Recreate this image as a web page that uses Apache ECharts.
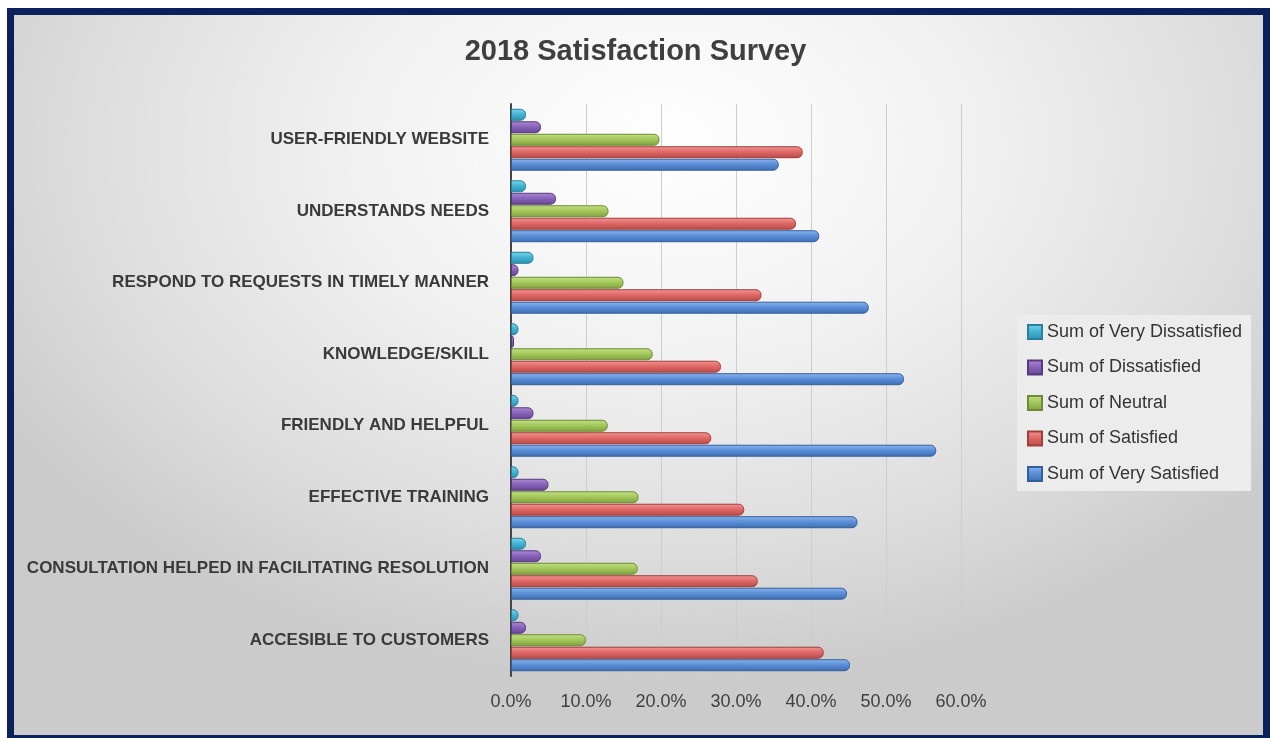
<!DOCTYPE html>
<html lang="en">
<head>
    <meta charset="UTF-8">
    <title>2018 Satisfaction Survey</title>
    <script src="https://cdn.jsdelivr.net/npm/echarts@6/dist/echarts.min.js"></script>
    <style>
        body {
            margin: 0;
            padding: 0;
            background: #fff;
            width: 1271px;
            height: 738px;
            overflow: hidden;
        }
        .frame {
            position: absolute;
            left: 7px;
            top: 8px;
            width: 1249px;
            height: 720px;
            border: 7px solid #0b215e;
            background: radial-gradient(ellipse 62% 75% at 52% 18%, #ffffff 0%, #f1f1f1 40%, #dddddd 75%, #cbcbcb 100%);
        }
        #chart {
            position: absolute;
            left: 0;
            top: 0;
            width: 1271px;
            height: 738px;
        }
    </style>
</head>
<body>
    <div class="frame"></div>
    <div id="chart"></div>
    <script>
        // categories, bottom to top as on the value axis
        var categories = [
            'ACCESIBLE TO CUSTOMERS',
            'CONSULTATION HELPED IN FACILITATING RESOLUTION',
            'EFFECTIVE TRAINING',
            'FRIENDLY AND HELPFUL',
            'KNOWLEDGE/SKILL',
            'RESPOND TO REQUESTS IN TIMELY MANNER',
            'UNDERSTANDS NEEDS',
            'USER-FRIENDLY WEBSITE'
        ];
        var xTicks = [0, 10, 20, 30, 40, 50, 60];

        // percentages, same order as categories
        var veryDissatisfied = [1.0, 2.0, 1.0, 1.0, 1.0, 3.0, 2.0, 2.0];
        var dissatisfied     = [2.0, 4.0, 5.0, 3.0, 0.4, 1.0, 6.0, 4.0];
        var neutral          = [10.0, 16.9, 17.0, 12.9, 18.9, 15.0, 13.0, 19.8];
        var satisfied        = [41.7, 32.9, 31.1, 26.7, 28.0, 33.4, 38.0, 38.9];
        var verySatisfied    = [45.2, 44.8, 46.2, 56.7, 52.4, 47.7, 41.1, 35.7];

        var seriesNames = [
            'Sum of Very Dissatisfied',
            'Sum of Dissatisfied',
            'Sum of Neutral',
            'Sum of Satisfied',
            'Sum of Very Satisfied'
        ];
        var seriesData = [veryDissatisfied, dissatisfied, neutral, satisfied, verySatisfied];
        // [light, mid, dark, border]
        var palette = [
            ['#7ad6ee', '#45b6d5', '#2b8fae', '#2a7f9a'],
            ['#ac8ad6', '#8a64bb', '#654592', '#553a7d'],
            ['#c4e184', '#a4c95c', '#7f9f3e', '#6f8c35'],
            ['#f39694', '#e06a68', '#b84946', '#a03e3c'],
            ['#8db5ee', '#5c90d8', '#3d6cb0', '#355f9c']
        ];

        function grad(c) {
            return new echarts.graphic.LinearGradient(0, 0, 0, 1, [
                { offset: 0, color: c[0] },
                { offset: 0.45, color: c[1] },
                { offset: 1, color: c[2] }
            ]);
        }

        var series = seriesNames.map(function (name, i) {
            return {
                name: name,
                type: 'bar',
                data: seriesData[i],
                barWidth: 12,
                barGap: '4%',
                itemStyle: {
                    color: grad(palette[i]),
                    borderColor: palette[i][3],
                    borderWidth: 1,
                    borderRadius: [0, 5, 5, 0]
                }
            };
        });

        var chart = echarts.init(document.getElementById('chart'));
        chart.setOption({
            backgroundColor: 'transparent',
            animation: false,
            title: {
                text: '2018 Satisfaction Survey',
                left: 'center',
                top: 37,
                padding: 0,
                textStyle: {
                    fontFamily: 'Liberation Sans Narrow, Arial Narrow, sans-serif',
                    fontSize: 29,
                    fontWeight: 'bold',
                    color: '#3f3f3f'
                }
            },
            legend: {
                orient: 'vertical',
                left: 1017,
                top: 315,
                padding: [7, 9, 7, 10],
                backgroundColor: '#ececec',
                itemWidth: 14,
                itemHeight: 14,
                itemGap: 15.5,
                itemTextGap: 3,
                icon: 'rect',
                data: seriesNames,
                textStyle: {
                    fontFamily: 'Liberation Sans Narrow, Arial Narrow, sans-serif',
                    fontSize: 18,
                    lineHeight: 20,
                    color: '#333333'
                }
            },
            grid: {
                left: 511,
                right: 310,
                top: 104,
                bottom: 62,
                containLabel: false
            },
            xAxis: {
                type: 'value',
                min: xTicks[0],
                max: xTicks[xTicks.length - 1],
                interval: 10,
                axisLine: { show: false },
                axisTick: { show: false },
                splitLine: { show: true, lineStyle: { color: '#cdcdcd', width: 1 } },
                axisLabel: {
                    margin: 17,
                    fontFamily: 'Liberation Sans Narrow, Arial Narrow, sans-serif',
                    fontSize: 18,
                    color: '#404040',
                    formatter: function (v) { return v.toFixed(1) + '%'; }
                }
            },
            yAxis: {
                type: 'category',
                data: categories,
                axisLine: { show: true, lineStyle: { color: '#454545', width: 2 } },
                axisTick: { show: false },
                splitLine: { show: false },
                axisLabel: {
                    margin: 22,
                    fontFamily: 'Liberation Sans Narrow, Arial Narrow, sans-serif',
                    fontSize: 17,
                    fontWeight: 'bold',
                    color: '#3a3a3a'
                }
            },
            series: series
        });
    </script>
</body>
</html>
